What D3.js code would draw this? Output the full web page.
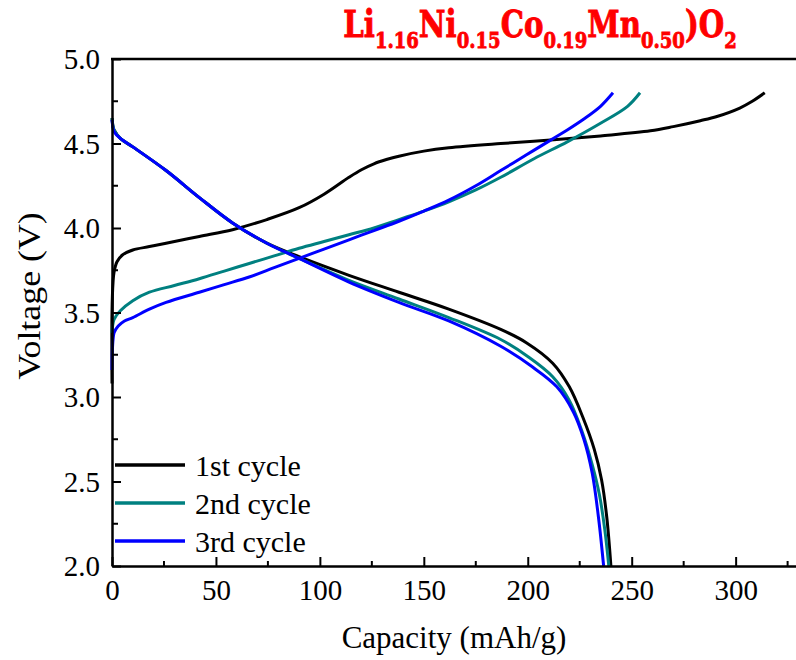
<!DOCTYPE html>
<html>
<head>
<meta charset="utf-8">
<script src="https://cdn.jsdelivr.net/npm/d3@7"></script>
<style>
  html, body { margin: 0; padding: 0; background: #fff; }
  svg { display: block; }
</style>
</head>
<body>
<svg id="chart" width="796" height="660"></svg>
<script>
// ---- data ----
const seriesNames = ["1st cycle", "2nd cycle", "3rd cycle"];
const seriesColors = ["#000000", "#008080", "#0000ff"];

const charge1Cap = [0, 0, 0.5, 1, 2.4, 5, 10, 18, 26, 42, 58, 74.5, 90, 102, 114, 120, 126, 132, 138, 150, 162, 187, 211, 235, 259, 270, 283, 291, 302, 308, 314];
const charge1V   = [3.08, 3.5, 3.68, 3.74, 3.80, 3.84, 3.87, 3.89, 3.91, 3.95, 3.99, 4.05, 4.12, 4.20, 4.30, 4.345, 4.38, 4.405, 4.425, 4.455, 4.475, 4.50, 4.52, 4.545, 4.575, 4.60, 4.635, 4.66, 4.71, 4.75, 4.80];

const discharge1Cap = [0, 0.5, 1, 4, 10, 26, 42, 58, 74.5, 90, 114, 138, 162, 187, 199.5, 212, 220, 226.5, 232, 235.5, 238, 240];
const discharge1V   = [4.65, 4.60, 4.58, 4.53, 4.48, 4.34, 4.18, 4.03, 3.91, 3.83, 3.72, 3.62, 3.52, 3.40, 3.32, 3.20, 3.06, 2.88, 2.69, 2.51, 2.29, 2.0];

const charge2Cap = [0, 0.3, 1, 4, 10, 18, 30, 42, 54, 66, 78, 90, 102, 114, 126, 138, 150, 162, 175, 187, 203, 219, 235, 248, 254];
const charge2V   = [3.38, 3.42, 3.46, 3.51, 3.57, 3.62, 3.66, 3.70, 3.745, 3.79, 3.835, 3.88, 3.92, 3.96, 4.00, 4.05, 4.10, 4.155, 4.225, 4.30, 4.41, 4.51, 4.62, 4.72, 4.80];

const discharge2Cap = [0, 0.5, 1, 4, 10, 26, 42, 58, 74.5, 90, 114, 138, 162, 187, 200, 212, 220, 226, 231, 234.5, 237, 239];
const discharge2V   = [4.65, 4.60, 4.58, 4.53, 4.48, 4.34, 4.18, 4.03, 3.91, 3.82, 3.69, 3.58, 3.47, 3.34, 3.24, 3.12, 2.98, 2.80, 2.60, 2.42, 2.22, 2.0];

const charge3Cap = [0, 0.2, 0.5, 1, 3, 6, 10, 18, 26, 42, 54, 66, 78, 90, 102, 114, 126, 138, 150, 162, 175, 187, 199, 211, 219, 227, 235, 241];
const charge3V   = [3.16, 3.28, 3.34, 3.38, 3.42, 3.45, 3.47, 3.52, 3.56, 3.62, 3.665, 3.71, 3.765, 3.82, 3.875, 3.93, 3.985, 4.04, 4.10, 4.165, 4.25, 4.34, 4.43, 4.52, 4.58, 4.645, 4.72, 4.80];

const discharge3Cap = [0, 0.5, 1, 4, 10, 26, 42, 58, 74.5, 90, 114, 138, 162, 187, 202, 214, 222, 227, 231, 234, 236.5];
const discharge3V   = [4.64, 4.59, 4.57, 4.53, 4.48, 4.34, 4.18, 4.03, 3.91, 3.82, 3.68, 3.56, 3.45, 3.30, 3.18, 3.06, 2.91, 2.75, 2.55, 2.29, 2.0];

const xTicks = [0, 50, 100, 150, 200, 250, 300];
const yTicks = [2.0, 2.5, 3.0, 3.5, 4.0, 4.5, 5.0];
const xMinorTicks = [25, 75, 125, 175, 225, 275, 325];
const yMinorTicks = [2.25, 2.75, 3.25, 3.75, 4.25, 4.75];

(function () {
const zip = (xs, ys) => xs.map((v, i) => [v, ys[i]]);
const curves = [
  { s: 0, pts: zip(charge1Cap, charge1V) },
  { s: 0, pts: zip(discharge1Cap, discharge1V) },
  { s: 1, pts: zip(charge2Cap, charge2V) },
  { s: 1, pts: zip(discharge2Cap, discharge2V) },
  { s: 2, pts: zip(charge3Cap, charge3V) },
  { s: 2, pts: zip(discharge3Cap, discharge3V) }
];

const svg = d3.select("#chart");
const mLeft = 112, mRight = 798, mTop = 59, mBottom = 566;
const x = d3.scaleLinear().domain([0, 330]).range([mLeft, mRight]);
const y = d3.scaleLinear().domain([2, 5]).range([mBottom, mTop]);

const serif = "'Liberation Serif', 'Times New Roman', serif";

// curves
const line = d3.line().x(d => x(d[0])).y(d => y(d[1])).curve(d3.curveCatmullRom.alpha(0.5));
svg.append("g").selectAll("path").data(curves).join("path")
  .attr("d", d => line(d.pts))
  .attr("fill", "none")
  .attr("stroke", d => seriesColors[d.s])
  .attr("stroke-width", 3)
  .attr("stroke-linejoin", "round");

// axes
const xAxis = d3.axisBottom(x).tickValues(xTicks).tickFormat(d3.format("d")).tickSizeInner(-9).tickSizeOuter(0).tickPadding(13);
const gx = svg.append("g").attr("transform", `translate(0,${mBottom})`).call(xAxis);
const yAxis = d3.axisLeft(y).tickValues(yTicks).tickFormat(d3.format(".1f")).tickSizeInner(-9).tickSizeOuter(0).tickPadding(12);
const gy = svg.append("g").attr("transform", `translate(${mLeft},0)`).call(yAxis);
[gx, gy].forEach(g => {
  g.select(".domain").attr("stroke", "#000").attr("stroke-width", 2.5);
  g.selectAll(".tick line").attr("stroke", "#000").attr("stroke-width", 2);
  g.selectAll(".tick text").attr("fill", "#000").style("font-family", serif).style("font-size", "29px");
});
gx.selectAll(".tick text").attr("dy", "0.71em");
gy.selectAll(".tick text").attr("dy", "0.34em");

// minor ticks
svg.append("g").selectAll("line").data(xMinorTicks).join("line")
  .attr("x1", d => x(d)).attr("x2", d => x(d))
  .attr("y1", mBottom).attr("y2", mBottom - 5)
  .attr("stroke", "#000").attr("stroke-width", 2);
svg.append("g").selectAll("line").data(yMinorTicks).join("line")
  .attr("x1", mLeft).attr("x2", mLeft + 6)
  .attr("y1", d => y(d)).attr("y2", d => y(d))
  .attr("stroke", "#000").attr("stroke-width", 2);

// top frame line
svg.append("line").attr("x1", mLeft - 1).attr("x2", 796).attr("y1", mTop).attr("y2", mTop)
  .attr("stroke", "#000").attr("stroke-width", 2.5);

// axis titles
svg.append("text").attr("x", 454).attr("y", 648).attr("text-anchor", "middle")
  .style("font-family", serif).style("font-size", "31px").attr("fill", "#000")
  .text("Capacity (mAh/g)");
svg.append("text").attr("transform", `translate(40,296) rotate(-90) scale(1.12,1)`)
  .attr("text-anchor", "middle")
  .style("font-family", serif).style("font-size", "32px").attr("fill", "#000")
  .text("Voltage (V)");

// legend
const legendY = [465, 503, 541];
const lg = svg.append("g");
seriesNames.forEach((name, i) => {
  lg.append("line").attr("x1", 115).attr("x2", 185).attr("y1", legendY[i]).attr("y2", legendY[i])
    .attr("stroke", seriesColors[i]).attr("stroke-width", 3.5);
  lg.append("text").attr("x", 195).attr("y", legendY[i]).attr("dy", "0.35em")
    .style("font-family", serif).style("font-size", "30px").attr("fill", "#000")
    .text(name);
});

// title with subscripts
const titleParts = [["Li", false], ["1.16", true], ["Ni", false], ["0.15", true], ["Co", false], ["0.19", true], ["Mn", false], ["0.50", true], [")O", false], ["2", true]];
const title = svg.append("text").attr("transform", "translate(540,37) scale(0.86,1.1)").attr("text-anchor", "middle")
  .style("font-family", "'DejaVu Serif', serif").style("font-weight", "bold").attr("fill", "#ff0000")
  .attr("stroke", "#ff0000").attr("stroke-width", 0.8);
titleParts.forEach(([t, sub], i) => {
  const ts = title.append("tspan").text(t);
  if (sub) ts.style("font-size", "21px").attr("dy", 10);
  else ts.style("font-size", "34px").attr("dy", i > 0 ? -10 : 0);
});
})();
</script>
</body>
</html>
